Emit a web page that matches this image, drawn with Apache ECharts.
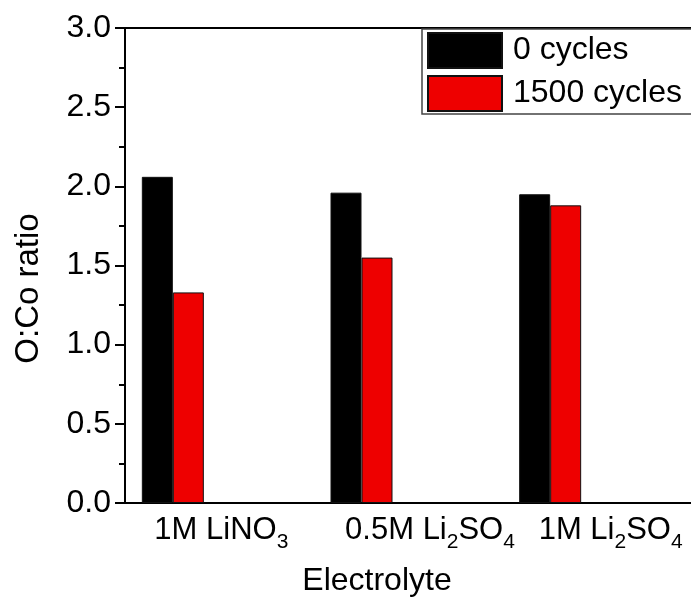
<!DOCTYPE html>
<html>
<head>
<meta charset="utf-8">
<script src="https://cdn.jsdelivr.net/npm/echarts@6/dist/echarts.min.js"></script>
<style>
  html, body { margin: 0; padding: 0; background: #fff; }
  #chart { width: 691px; height: 602px; }
</style>
</head>
<body>
<div id="chart"></div>
<script>
// electrolyte categories (subscripts through rich text)
const categories = ['1M LiNO{s|3}', '0.5M Li{s|2}SO{s|4}', '1M Li{s|2}SO{s|4}'];
const cycles0 = [2.06, 1.96, 1.95];
const cycles1500 = [1.33, 1.55, 1.88];
const seriesNames = ['0 cycles', '1500 cycles'];

// the original labels sit a bit right of their ticks
const labelShift = [4, 44, 28];

const font = 'Arial, "Liberation Sans", sans-serif';
const chart = echarts.init(document.getElementById('chart'));

const barStyle = (color) => ({
  color: color,
  borderColor: '#111',
  borderWidth: 1
});

// empty slots so the pair sits left of the tick, like the original
const emptySlot = () => ({ type: 'bar', data: [], barWidth: 31, barGap: '0%' });

// wrap plain parts in an "m" token so both parts align from the top
const wrapLabel = (v) => ('{m|' + v.replace(/\{s\|([^}]*)\}/g, '}{s|$1}{m|') + '}').replace(/\{m\|\}/g, '');

const option = {
  animation: false,
  backgroundColor: '#fff',
  textStyle: { fontFamily: font },
  grid: {
    left: 125,
    right: -7,
    top: 28,
    bottom: 99
  },
  legend: {
    data: seriesNames,
    orient: 'vertical',
    left: 422,
    top: 29,
    padding: [3, 20, 2, 5],
    itemGap: 6,
    itemWidth: 74,
    itemHeight: 35,
    icon: 'rect',
    backgroundColor: '#fff',
    borderColor: '#444',
    borderWidth: 1.5,
    textStyle: { fontSize: 32, color: '#000', fontFamily: font, padding: [0, 0, 0, 6] }
  },
  xAxis: [{
    type: 'category',
    data: categories.map((c, i) => ({ value: c, textStyle: { padding: [0, 0, 0, labelShift[i]] } })),
    name: 'Electrolyte',
    nameLocation: 'middle',
    nameGap: 62,
    nameTextStyle: { fontSize: 32, color: '#000', fontFamily: font, padding: [0, 62, 0, 0] },
    axisLine: { lineStyle: { color: '#000', width: 2 } },
    axisTick: { alignWithLabel: true, length: 7, lineStyle: { color: '#000', width: 2 } },
    axisLabel: {
      interval: 0,
      hideOverlap: false,
      color: '#000',
      margin: 12,
      formatter: wrapLabel,
      rich: {
        m: { fontSize: 31, color: '#000', fontFamily: font, verticalAlign: 'top', lineHeight: 34 },
        s: { fontSize: 21, color: '#000', fontFamily: font, verticalAlign: 'top', lineHeight: 24, padding: [17, 0, 0, 0] }
      }
    }
  }, {
    // top frame line only
    type: 'category',
    data: categories,
    position: 'top',
    axisLine: { show: true, lineStyle: { color: '#000', width: 2 } },
    axisTick: { show: false },
    axisLabel: { show: false }
  }],
  yAxis: {
    type: 'value',
    min: 0,
    max: 3,
    interval: 0.5,
    name: 'O:Co ratio',
    nameLocation: 'middle',
    nameGap: 80,
    nameTextStyle: { fontSize: 33, color: '#000', fontFamily: font, padding: [0, 46, 0, 0] },
    axisLine: { show: true, lineStyle: { color: '#000', width: 2 } },
    axisTick: { show: true, length: 10, lineStyle: { color: '#000', width: 2 } },
    minorTick: { show: true, splitNumber: 2, length: 6, lineStyle: { color: '#000', width: 2 } },
    splitLine: { show: false },
    axisLabel: {
      fontSize: 32,
      color: '#000',
      fontFamily: font,
      margin: 14,
      formatter: (v) => v.toFixed(1)
    }
  },
  series: [
    { name: seriesNames[0], type: 'bar', data: cycles0, barWidth: 31, barGap: '0%', itemStyle: barStyle('#000000') },
    { name: seriesNames[1], type: 'bar', data: cycles1500, barWidth: 31, barGap: '0%', itemStyle: barStyle('#ee0000') },
    emptySlot(),
    emptySlot(),
    emptySlot()
  ]
};

chart.setOption(option);
</script>
</body>
</html>
